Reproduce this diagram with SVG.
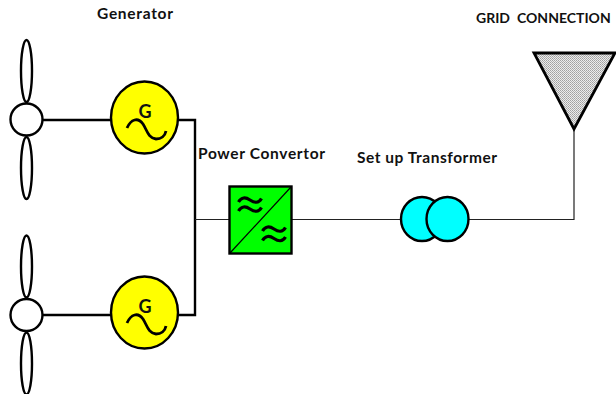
<svg xmlns="http://www.w3.org/2000/svg" width="616" height="394" viewBox="0 0 616 394">
<style>
text{font-family:"Lato","Liberation Sans",sans-serif;font-weight:700;font-size:15.500px;fill:#111}
.k{fill:none;stroke:#000}
.blade,.hub{fill:#fff;stroke:#000;stroke-width:2.400}
.gen{fill:#ff0;stroke:#000;stroke-width:2.400}
.wave{fill:none;stroke:#000;stroke-width:2.800}
.g{font-size:18px;text-anchor:middle}
.tr{fill:#0ff;stroke:#000;stroke-width:2.400}
</style>
<defs>
<pattern id="dots" width="2" height="2" patternUnits="userSpaceOnUse"><rect width="2" height="2" fill="#ececec"/><rect width="1" height="1" fill="#a0a0a0"/><rect x="1" y="1" width="1" height="1" fill="#b0b0b0"/></pattern>
<g id="turbine"><ellipse class="blade" cx="26.500" cy="71" rx="5.500" ry="31"/><ellipse class="blade" cx="26.500" cy="168" rx="5.500" ry="31"/><circle class="hub" cx="26.500" cy="119.500" r="16"/></g>
<g id="generator"><ellipse class="gen" cx="144.500" cy="117.500" rx="33.500" ry="36"/><text class="g" x="145" y="117.500">G</text><path class="wave" d="M127 128C131 119 138 117 143 124C147 130 148 138 156 139C161 139 165 136 166 131"/></g>
<path id="w" d="M0 5C3 0 7 0 11.500 3C16 6 20 6.500 23 1.500" fill="none" stroke="#000" stroke-width="3.200"/>
</defs>
<g id="connectors" class="k">
<path d="M42 120H111M178 120H195V315H178M42 315H111" stroke-width="2.400"/>
<path d="M195 219.500H230M291 219.500H401M469 219.500H574V129" stroke-width="1.200" stroke="#222"/>
</g>
<g id="turbine-1"><use href="#turbine"/></g>
<g id="generator-1"><use href="#generator"/></g>
<g id="turbine-2"><use href="#turbine" y="195.500"/></g>
<g id="generator-2"><use href="#generator" y="195"/></g>
<g id="converter"><rect x="229.500" y="186.500" width="62" height="67" fill="#0f0" stroke="#000" stroke-width="2.400"/><path d="M230 253L291 187" stroke="#000" stroke-width="1.200" fill="none"/><use href="#w" x="238.500" y="197"/><use href="#w" x="238.500" y="206"/><use href="#w" x="262.500" y="226"/><use href="#w" x="262.500" y="235.500"/></g>
<g id="transformer"><ellipse class="tr" cx="422" cy="219" rx="21" ry="22"/><ellipse class="tr" cx="447.500" cy="219" rx="21" ry="22"/></g>
<g id="grid"><path d="M534 53H615L574 129Z" fill="url(#dots)" stroke="#000" stroke-width="2.800"/></g>
<text x="97" y="18.500" textLength="76" lengthAdjust="spacing">Generator</text>
<text x="198" y="159" textLength="127" lengthAdjust="spacing">Power Convertor</text>
<text x="357" y="162.500" textLength="140" lengthAdjust="spacing">Set up Transformer</text>
<text y="22.500" style="font-size:14px" xml:space="preserve"><tspan x="476">GRID</tspan> <tspan x="517">CONNECTION</tspan></text>
</svg>
